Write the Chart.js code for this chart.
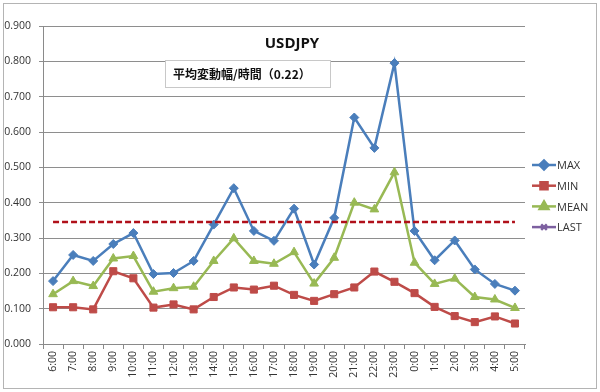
<!DOCTYPE html>
<html>
<head>
<meta charset="utf-8">
<script src="https://cdn.jsdelivr.net/npm/chart.js@4"></script>
<style>
  html, body { margin: 0; padding: 0; background: #fff; }
  #wrap { width: 600px; height: 392px; }
</style>
</head>
<body>
<div id="wrap"><canvas id="canvas" width="600" height="392"></canvas></div>
<script>
const hours = ['6:00', '7:00', '8:00', '9:00', '10:00', '11:00', '12:00', '13:00',
  '14:00', '15:00', '16:00', '17:00', '18:00', '19:00', '20:00', '21:00',
  '22:00', '23:00', '0:00', '1:00', '2:00', '3:00', '4:00', '5:00'];

const maxVals = [0.178, 0.252, 0.235, 0.283, 0.314, 0.198, 0.201, 0.235,
  0.338, 0.441, 0.320, 0.292, 0.383, 0.225, 0.357, 0.641,
  0.555, 0.795, 0.320, 0.237, 0.293, 0.211, 0.170, 0.151];

const minVals = [0.104, 0.104, 0.098, 0.206, 0.186, 0.103, 0.112, 0.098,
  0.133, 0.160, 0.154, 0.165, 0.139, 0.122, 0.141, 0.160,
  0.205, 0.176, 0.144, 0.105, 0.079, 0.062, 0.078, 0.058];

const meanVals = [0.141, 0.178, 0.164, 0.242, 0.249, 0.148, 0.158, 0.162,
  0.235, 0.299, 0.235, 0.227, 0.260, 0.171, 0.244, 0.400,
  0.381, 0.486, 0.230, 0.170, 0.185, 0.133, 0.126, 0.102];

const lastVals = [];

const avgLevel = 0.345;
const chartTitle = 'USDJPY';
const noteText = '平均変動幅/時間（0.22）';

const font = '"Open Sans", "Noto Sans", sans-serif';

// frame, title, note box, dashed average line and legend
const extras = {
  id: 'extras',
  beforeDraw(chart) {
    const c = chart.ctx;
    c.save();
    c.fillStyle = '#fff';
    c.fillRect(0, 0, chart.width, chart.height);
    c.strokeStyle = '#b4b4b4';
    c.lineWidth = 1;
    c.strokeRect(3.5, 3.5, 593, 385);
    c.restore();
  },
  afterDatasetsDraw(chart) {
    const c = chart.ctx;
    const x = chart.scales.x, y = chart.scales.y;
    const yy = y.getPixelForValue(avgLevel);
    c.save();
    c.strokeStyle = '#b0101a';
    c.lineWidth = 2.5;
    c.setLineDash([6, 3]);
    c.beginPath();
    c.moveTo(x.getPixelForValue(0), yy);
    c.lineTo(x.getPixelForValue(hours.length - 1), yy);
    c.stroke();
    c.restore();
  },
  afterDraw(chart) {
    const c = chart.ctx;
    c.save();
    c.fillStyle = '#111';
    c.font = 'bold 15px ' + font;
    c.textAlign = 'center';
    c.textBaseline = 'middle';
    c.fillText(chartTitle, 292, 44);

    c.fillStyle = '#fff';
    c.fillRect(165, 60, 165, 27);
    c.strokeStyle = '#c8c8c8';
    c.lineWidth = 1;
    c.strokeRect(165.5, 60.5, 165, 27);
    c.fillStyle = '#111';
    c.font = 'bold 12px "Noto Sans CJK JP", sans-serif';
    c.textAlign = 'left';
    c.fillText(noteText, 173, 74);

    // legend: line + marker, like the spreadsheet
    chart.data.datasets.forEach((ds, i) => {
      const ly = 165 + i * 20.7;
      c.strokeStyle = ds.borderColor;
      c.lineWidth = 2.5;
      c.beginPath();
      c.moveTo(532, ly);
      c.lineTo(556, ly);
      c.stroke();
      c.fillStyle = ds.borderColor;
      Chart.helpers.drawPoint(c, {
        pointStyle: ds.pointStyle, radius: ds.pointRadius, borderWidth: 1
      }, 544, ly);
      c.fillStyle = '#333';
      c.font = '11px ' + font;
      c.textBaseline = 'middle';
      c.fillText(ds.label, 557, ly + 1);
    });
    c.restore();
  }
};

const ctx = document.getElementById('canvas').getContext('2d');

new Chart(ctx, {
  type: 'line',
  data: {
    labels: hours,
    datasets: [
      { label: 'MAX', data: maxVals, borderColor: '#4a7ebb', backgroundColor: '#4a7ebb',
        pointStyle: 'rectRot', pointRadius: 4.5 },
      { label: 'MIN', data: minVals, borderColor: '#be4b48', backgroundColor: '#be4b48',
        pointStyle: 'rect', pointRadius: 5 },
      { label: 'MEAN', data: meanVals, borderColor: '#98b954', backgroundColor: '#98b954',
        pointStyle: 'triangle', pointRadius: 5 },
      { label: 'LAST', data: lastVals, borderColor: '#7d60a0', backgroundColor: '#7d60a0',
        pointStyle: 'crossRot', pointRadius: 4 }
    ]
  },
  options: {
    responsive: false,
    animation: false,
    elements: {
      line: { borderWidth: 2.5, tension: 0 },
      point: { borderWidth: 1, hoverRadius: 5 }
    },
    layout: { padding: { left: 4, top: 26, right: 75, bottom: 0 } },
    scales: {
      x: {
        offset: true,
        afterFit: s => { s.height = 48; },
        grid: {
          offset: true,
          drawOnChartArea: false,
          drawTicks: true,
          tickLength: 5,
          color: '#8a8a8a'
        },
        border: { display: true, color: '#8a8a8a' },
        ticks: {
          autoSkip: false,
          minRotation: 90,
          maxRotation: 90,
          padding: 2,
          color: '#333',
          font: { family: font, size: 10.5 }
        }
      },
      y: {
        min: 0,
        max: 0.9,
        afterFit: s => { s.width = 39; },
        grid: { color: '#8e8e8e', tickLength: 4 },
        border: { display: true, color: '#8a8a8a' },
        ticks: {
          stepSize: 0.1,
          padding: 8,
          color: '#333',
          font: { family: font, size: 10.5 },
          callback: v => v.toFixed(3)
        }
      }
    },
    plugins: {
      legend: { display: false },
      tooltip: { enabled: false }
    }
  },
  plugins: [extras]
});
</script>
</body>
</html>
